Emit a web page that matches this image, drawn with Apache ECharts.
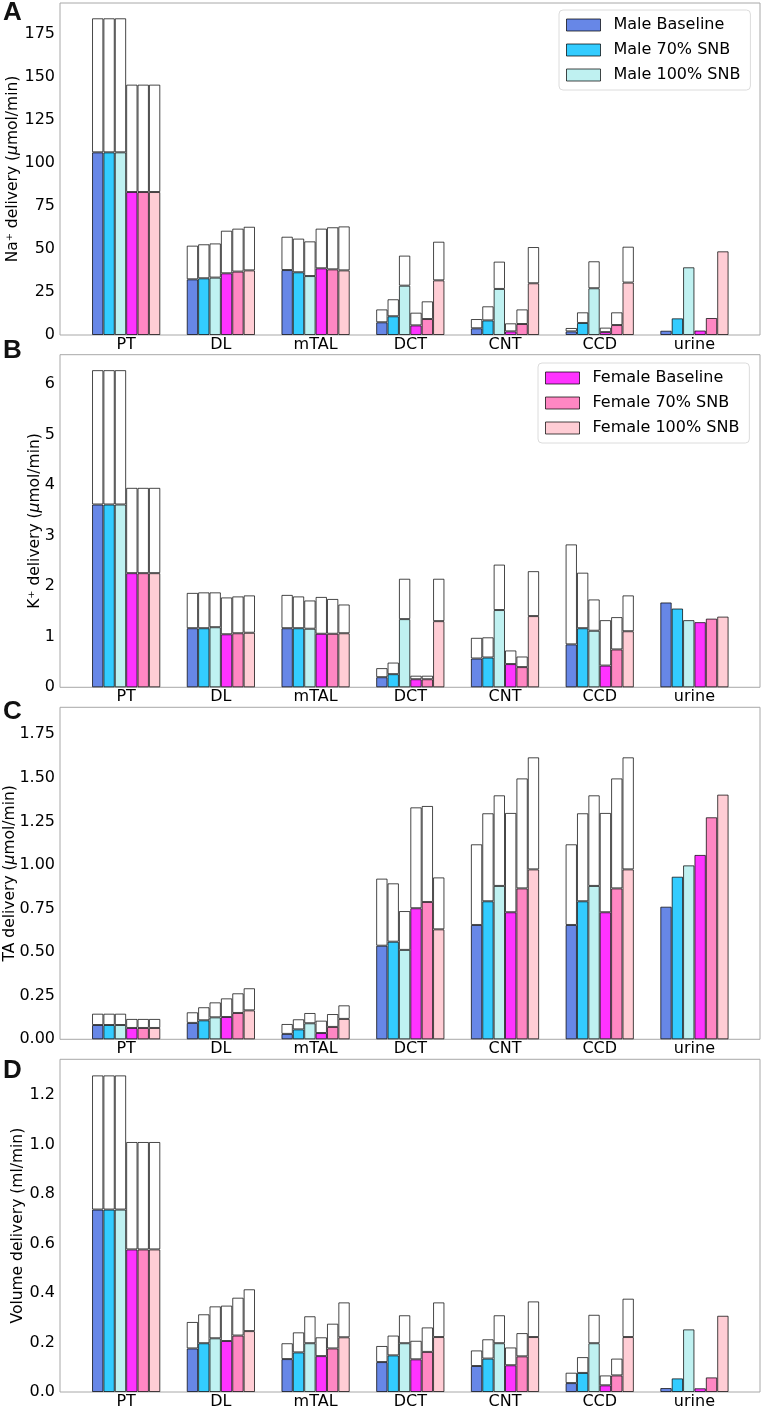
<!DOCTYPE html>
<html>
<head>
<meta charset="utf-8">
<script src="https://cdn.jsdelivr.net/npm/echarts@6/dist/echarts.min.js"></script>
<style>
html,body{margin:0;padding:0;background:#fff;}
#chart{width:762px;height:1410px;}
</style>
</head>
<body>
<div id="chart"></div>
<script>
// ---------------- DATA ----------------
const categories = ['PT', 'DL', 'mTAL', 'DCT', 'CNT', 'CCD', 'urine'];
const conditionNames = ['Male Baseline', 'Male 70% SNB', 'Male 100% SNB', 'Female Baseline', 'Female 70% SNB', 'Female 100% SNB'];

// Panel A: Na+ delivery (umol/min); rows = conditions, columns = categories
const naLower = [
  [106.3, 32.4, 37.8, 7.4, 3.9, 2.1, 2.5],
  [106.3, 33.0, 36.5, 10.9, 8.5, 7.0, 9.7],
  [106.3, 33.4, 34.3, 28.7, 26.8, 27.2, 39.4],
  [83.2, 35.9, 38.8, 5.6, 2.1, 1.7, 2.6],
  [83.2, 36.9, 38.2, 9.3, 6.4, 5.8, 9.9],
  [83.2, 37.6, 37.6, 31.8, 30.1, 30.5, 48.7]
];
const naTotal = [
  [184.3, 52.0, 57.2, 14.9, 9.3, 4.1, 2.5],
  [184.3, 52.8, 56.1, 20.8, 16.7, 13.2, 9.7],
  [184.3, 53.3, 54.5, 46.2, 42.7, 42.9, 39.4],
  [145.7, 60.7, 61.9, 13.0, 6.8, 4.3, 2.6],
  [145.7, 61.9, 62.7, 19.6, 14.9, 13.2, 9.9],
  [145.7, 63.0, 63.2, 54.3, 51.2, 51.4, 48.7]
];
const naTicks = ['0', '25', '50', '75', '100', '125', '150', '175'];

// Panel B: K+ delivery (umol/min)
const kLower = [
  [3.62, 1.17, 1.17, 0.20, 0.57, 0.85, 1.68],
  [3.62, 1.17, 1.17, 0.26, 0.59, 1.17, 1.56],
  [3.62, 1.19, 1.16, 1.35, 1.53, 1.12, 1.33],
  [2.26, 1.05, 1.06, 0.16, 0.46, 0.43, 1.29],
  [2.26, 1.07, 1.06, 0.16, 0.40, 0.75, 1.36],
  [2.26, 1.08, 1.07, 1.31, 1.41, 1.11, 1.40]
];
const kTotal = [
  [6.28, 1.87, 1.83, 0.38, 0.98, 2.83, 1.68],
  [6.28, 1.88, 1.80, 0.49, 0.99, 2.27, 1.56],
  [6.28, 1.88, 1.72, 2.15, 2.43, 1.74, 1.33],
  [3.95, 1.78, 1.79, 0.23, 0.73, 1.33, 1.29],
  [3.95, 1.80, 1.75, 0.23, 0.61, 1.39, 1.36],
  [3.95, 1.82, 1.64, 2.15, 2.30, 1.82, 1.40]
];
const kTicks = ['0', '1', '2', '3', '4', '5', '6'];

// Panel C: TA delivery (umol/min)
const taLower = [
  [0.082, 0.094, 0.031, 0.537, 0.656, 0.656, 0.761],
  [0.082, 0.109, 0.057, 0.560, 0.792, 0.792, 0.933],
  [0.082, 0.126, 0.092, 0.513, 0.880, 0.880, 0.998],
  [0.065, 0.128, 0.036, 0.752, 0.729, 0.729, 1.058],
  [0.065, 0.151, 0.071, 0.788, 0.866, 0.866, 1.274],
  [0.065, 0.166, 0.117, 0.631, 0.975, 0.975, 1.404]
];
const taTotal = [
  [0.147, 0.155, 0.088, 0.922, 1.119, 1.119, 0.761],
  [0.147, 0.184, 0.115, 0.895, 1.297, 1.297, 0.933],
  [0.147, 0.212, 0.151, 0.736, 1.400, 1.400, 0.998],
  [0.117, 0.235, 0.107, 1.331, 1.299, 1.299, 1.058],
  [0.117, 0.264, 0.145, 1.339, 1.497, 1.497, 1.274],
  [0.117, 0.293, 0.195, 0.929, 1.618, 1.618, 1.404]
];
const taTicks = ['0.00', '0.25', '0.50', '0.75', '1.00', '1.25', '1.50', '1.75'];

// Panel D: Volume delivery (ml/min)
const volLower = [
  [0.737, 0.176, 0.133, 0.121, 0.105, 0.036, 0.016],
  [0.737, 0.197, 0.160, 0.148, 0.135, 0.077, 0.055],
  [0.737, 0.217, 0.197, 0.197, 0.197, 0.197, 0.253],
  [0.576, 0.206, 0.145, 0.132, 0.108, 0.027, 0.015],
  [0.576, 0.228, 0.176, 0.162, 0.144, 0.067, 0.059],
  [0.576, 0.246, 0.221, 0.222, 0.222, 0.222, 0.308]
];
const volTotal = [
  [1.279, 0.283, 0.197, 0.186, 0.168, 0.078, 0.016],
  [1.279, 0.314, 0.241, 0.228, 0.213, 0.141, 0.055],
  [1.279, 0.346, 0.306, 0.310, 0.310, 0.312, 0.253],
  [1.010, 0.349, 0.221, 0.207, 0.180, 0.067, 0.015],
  [1.010, 0.381, 0.276, 0.261, 0.238, 0.135, 0.059],
  [1.010, 0.415, 0.362, 0.362, 0.366, 0.377, 0.308]
];
const volTicks = ['0.0', '0.2', '0.4', '0.6', '0.8', '1.0', '1.2'];

// ---------------- STYLE / LAYOUT ----------------
const colors = ['#6787E7', '#33CCFF', '#BFF1F1', '#FF33FF', '#FF87C3', '#FFCDD5'];
const edge = 'rgba(0,0,0,0.72)';
const FONT = 'DejaVu Sans';

const panels = [
  {letter: 'A', lower: naLower, total: naTotal, ticks: naTicks, step: 25, max: 193.2, top: 3, height: 332,
   name: 'Na⁺ delivery ({i|μ}mol/min)', nameGap: 39, letterTop: 0},
  {letter: 'B', lower: kLower, total: kTotal, ticks: kTicks, step: 1, max: 6.586, top: 354.7, height: 332.6,
   name: 'K⁺ delivery ({i|μ}mol/min)', nameGap: 17, letterTop: 338},
  {letter: 'C', lower: taLower, total: taTotal, ticks: taTicks, step: 0.25, max: 1.905, top: 707.3, height: 332,
   name: 'TA delivery ({i|μ}mol/min)', nameGap: 42, letterTop: 699},
  {letter: 'D', lower: volLower, total: volTotal, ticks: volTicks, step: 0.2, max: 1.344, top: 1059.3, height: 332.7,
   name: 'Volume delivery (ml/min)', nameGap: 34, letterTop: 1058}
];

const frameLeft = 60, frameWidth = 700;
const dataLeft = 78.8, dataWidth = 663.0;
const barW = 11.38;

const grid = [], xAxis = [], yAxis = [], series = [], graphic = [];

panels.forEach((p, pi) => {
  const fIdx = pi * 2, dIdx = pi * 2 + 1;
  grid.push({left: frameLeft, top: p.top, width: frameWidth, height: p.height, show: true,
             borderColor: '#a8a8a8', borderWidth: 1, backgroundColor: 'transparent',
             containLabel: false, outerBoundsMode: 'none'});
  grid.push({left: dataLeft, top: p.top, width: dataWidth, height: p.height,
             containLabel: false, outerBoundsMode: 'none'});

  xAxis.push({gridIndex: fIdx, type: 'value', min: 0, max: 1, show: false});
  xAxis.push({gridIndex: dIdx, type: 'category', data: categories,
              axisLine: {show: false}, axisTick: {show: false}, splitLine: {show: false},
              axisLabel: {color: '#000', fontSize: 16, fontFamily: FONT, margin: 2}});

  yAxis.push({gridIndex: fIdx, type: 'value', min: 0, max: p.max, interval: p.step,
              axisLine: {show: false}, axisTick: {show: false}, splitLine: {show: false},
              axisLabel: {color: '#000', fontSize: 16, fontFamily: FONT, margin: 5, showMaxLabel: false,
                          formatter: (v) => { const i = Math.round(v / p.step); return p.ticks[i] !== undefined ? p.ticks[i] : ''; }},
              name: p.name, nameLocation: 'middle', nameRotate: 90, nameGap: p.nameGap, nameMoveOverlap: false,
              nameTextStyle: {color: '#000', fontSize: 15.5, fontFamily: FONT,
                              rich: {i: {fontStyle: 'italic', fontSize: 15.5, fontFamily: FONT, color: '#000'}}}});
  yAxis.push({gridIndex: dIdx, type: 'value', min: 0, max: p.max, show: false});

  for (let c = 0; c < 6; c++) {
    series.push({
      type: 'bar', name: conditionNames[c], xAxisIndex: dIdx, yAxisIndex: dIdx,
      stack: 'p' + pi + 'c' + c, barWidth: barW, barGap: '0%',
      itemStyle: {color: colors[c], borderColor: edge, borderWidth: 1},
      emphasis: {disabled: true},
      data: p.lower[c]
    });
  }
  for (let c = 0; c < 6; c++) {
    series.push({
      type: 'bar', name: 'outer', xAxisIndex: dIdx, yAxisIndex: dIdx,
      stack: 'p' + pi + 'c' + c, barWidth: barW, barGap: '0%',
      itemStyle: {color: '#ffffff', borderColor: edge, borderWidth: 1},
      emphasis: {disabled: true},
      data: p.total[c].map((t, k) => { const d = t - p.lower[c][k]; return d > 1e-9 ? d : null; })
    });
  }

  graphic.push({type: 'text', left: 3, top: p.letterTop,
                style: {text: p.letter, fontSize: 26, fontWeight: 'bold', fontFamily: 'Liberation Sans', fill: '#111'}});
});

const legendCommon = {
  orient: 'vertical', itemWidth: 34, itemHeight: 12, itemGap: 7, icon: 'rect',
  backgroundColor: '#fff', borderColor: '#dcdcdc', borderWidth: 1, borderRadius: 4,
  padding: [6, 10, 6, 7],
  textStyle: {color: '#000', fontSize: 16, fontFamily: FONT, lineHeight: 18, padding: [0, 0, 0, 8]},
  itemStyle: {borderColor: edge, borderWidth: 1},
  selectedMode: false
};

const option = {
  animation: false,
  backgroundColor: '#fff',
  grid, xAxis, yAxis, series, graphic,
  legend: [
    Object.assign({}, legendCommon, {left: 559, top: 10, data: conditionNames.slice(0, 3)}),
    Object.assign({}, legendCommon, {left: 538, top: 363, data: conditionNames.slice(3, 6)})
  ]
};

const chart = echarts.init(document.getElementById('chart'), null, {renderer: 'canvas', width: 762, height: 1410});
chart.setOption(option);
</script>
</body>
</html>
